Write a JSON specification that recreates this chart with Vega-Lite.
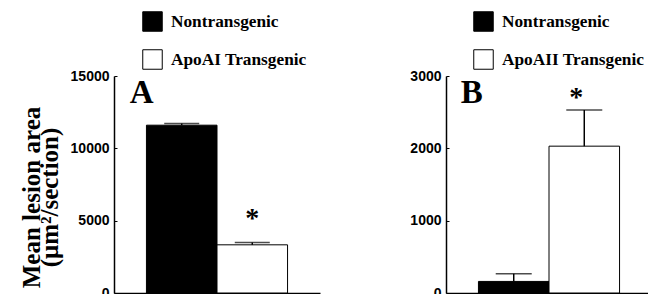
{
  "$schema": "https://vega.github.io/schema/vega-lite/v6.json",
  "background": "white",
  "padding": {"top": 11, "left": 19, "right": 0, "bottom": 0},
  "config": {
    "view": {"stroke": null},
    "font": "Liberation Serif",
    "axis": {"domainColor": "black", "domainWidth": 1.5, "tickColor": "black", "grid": false, "labelFont": "Liberation Sans", "labelFontWeight": "bold", "labelFontSize": 14, "labelColor": "black"},
    "legend": {"padding": 0, "labelFont": "Liberation Serif", "labelFontWeight": "bold", "labelFontSize": 17.3, "labelColor": "black", "labelLimit": 300}
  },
  "spacing": 89,
  "resolve": {"scale": {"color": "independent", "y": "independent", "x": "independent"}, "legend": {"color": "independent"}},
  "hconcat": [
    {
      "width": 206,
      "height": 217,
      "layer": [
        {
          "data": {"values": [
            {"group": "Nontransgenic", "value": 11600, "upper": 11715},
            {"group": "ApoAI Transgenic", "value": 3330, "upper": 3490}
          ]},
          "layer": [
            {
              "mark": {"type": "bar", "stroke": "black", "strokeWidth": 1},
              "encoding": {
                "x": {"field": "group", "type": "nominal", "sort": null, "scale": {"paddingInner": 0, "paddingOuter": 0.46}, "axis": {"title": null, "labels": false, "ticks": false}},
                "y": {"field": "value", "type": "quantitative", "scale": {"domain": [0, 15000], "nice": false}, "axis": {"values": [0, 2500, 5000, 7500, 10000, 12500, 15000], "format": "d", "labelExpr": "datum.value % 5000 === 0 ? datum.label : ''", "tickSize": -3, "labelPadding": 8, "labelFontSize": 14, "title": ["Mean lesion area", "(μm²/section)"], "titleFont": "Liberation Serif", "titleFontWeight": "bold", "titleFontSize": 25, "titleLineHeight": 18, "titleColor": "black", "titlePadding": 8, "titleY": 121}},
                "color": {"field": "group", "type": "nominal", "scale": {"domain": ["Nontransgenic", "ApoAI Transgenic"], "range": ["black", "white"]}, "legend": {"orient": "none", "legendX": 28, "legendY": -65, "title": null, "symbolType": "square", "symbolSize": 380, "symbolStrokeColor": "black", "symbolStrokeWidth": 1, "symbolOpacity": 1, "labelFontSize": 17.3, "labelOffset": 8, "rowPadding": 13}}
              }
            },
            {
              "mark": {"type": "rule", "color": "black", "strokeWidth": 1.5},
              "encoding": {"x": {"field": "group", "type": "nominal", "sort": null}, "y": {"field": "value", "type": "quantitative"}, "y2": {"field": "upper"}}
            },
            {
              "mark": {"type": "tick", "color": "black", "thickness": 1.5, "size": 35, "orient": "horizontal"},
              "encoding": {"x": {"field": "group", "type": "nominal", "sort": null}, "y": {"field": "upper", "type": "quantitative"}}
            }
          ]
        },
        {
          "data": {"values": [
            {"group": "Nontransgenic", "y": 13134, "text": "A"}
          ]},
          "mark": {"type": "text", "fontWeight": "bold", "font": "Liberation Serif", "fontSize": 33, "color": "black", "baseline": "alphabetic", "dx": -40},
          "encoding": {
            "x": {"field": "group", "type": "nominal", "sort": null},
            "y": {"field": "y", "type": "quantitative"},
            "text": {"field": "text"}
          }
        },
        {
          "data": {"values": [
            {"group": "ApoAI Transgenic", "y": 4528, "text": "*"}
          ]},
          "mark": {"type": "text", "fontWeight": "bold", "font": "Liberation Serif", "fontSize": 28, "color": "black", "baseline": "alphabetic", "dx": 0},
          "encoding": {
            "x": {"field": "group", "type": "nominal", "sort": null},
            "y": {"field": "y", "type": "quantitative"},
            "text": {"field": "text"}
          }
        }
      ]
    },
    {
      "width": 206,
      "height": 217,
      "layer": [
        {
          "data": {"values": [
            {"group": "Nontransgenic", "value": 160, "upper": 266},
            {"group": "ApoAII Transgenic", "value": 2030, "upper": 2530}
          ]},
          "layer": [
            {
              "mark": {"type": "bar", "stroke": "black", "strokeWidth": 1},
              "encoding": {
                "x": {"field": "group", "type": "nominal", "sort": null, "scale": {"paddingInner": 0, "paddingOuter": 0.46}, "axis": {"title": null, "labels": false, "ticks": false}},
                "y": {"field": "value", "type": "quantitative", "scale": {"domain": [0, 3000], "nice": false}, "axis": {"values": [0, 500, 1000, 1500, 2000, 2500, 3000], "format": "d", "labelExpr": "datum.value % 1000 === 0 ? datum.label : ''", "tickSize": -3, "labelPadding": 8, "labelFontSize": 14, "title": null}},
                "color": {"field": "group", "type": "nominal", "scale": {"domain": ["Nontransgenic", "ApoAII Transgenic"], "range": ["black", "white"]}, "legend": {"orient": "none", "legendX": 27, "legendY": -65, "title": null, "symbolType": "square", "symbolSize": 380, "symbolStrokeColor": "black", "symbolStrokeWidth": 1, "symbolOpacity": 1, "labelFontSize": 17.3, "labelOffset": 8, "rowPadding": 13}}
              }
            },
            {
              "mark": {"type": "rule", "color": "black", "strokeWidth": 1.5},
              "encoding": {"x": {"field": "group", "type": "nominal", "sort": null}, "y": {"field": "value", "type": "quantitative"}, "y2": {"field": "upper"}}
            },
            {
              "mark": {"type": "tick", "color": "black", "thickness": 1.5, "size": 36, "orient": "horizontal"},
              "encoding": {"x": {"field": "group", "type": "nominal", "sort": null}, "y": {"field": "upper", "type": "quantitative"}}
            }
          ]
        },
        {
          "data": {"values": [
            {"group": "Nontransgenic", "y": 2627, "text": "B"}
          ]},
          "mark": {"type": "text", "fontWeight": "bold", "font": "Liberation Serif", "fontSize": 33, "color": "black", "baseline": "alphabetic", "dx": -42},
          "encoding": {
            "x": {"field": "group", "type": "nominal", "sort": null},
            "y": {"field": "y", "type": "quantitative"},
            "text": {"field": "text"}
          }
        },
        {
          "data": {"values": [
            {"group": "ApoAII Transgenic", "y": 2592, "text": "*"}
          ]},
          "mark": {"type": "text", "fontWeight": "bold", "font": "Liberation Serif", "fontSize": 28, "color": "black", "baseline": "alphabetic", "dx": -8},
          "encoding": {
            "x": {"field": "group", "type": "nominal", "sort": null},
            "y": {"field": "y", "type": "quantitative"},
            "text": {"field": "text"}
          }
        }
      ]
    }
  ]
}
